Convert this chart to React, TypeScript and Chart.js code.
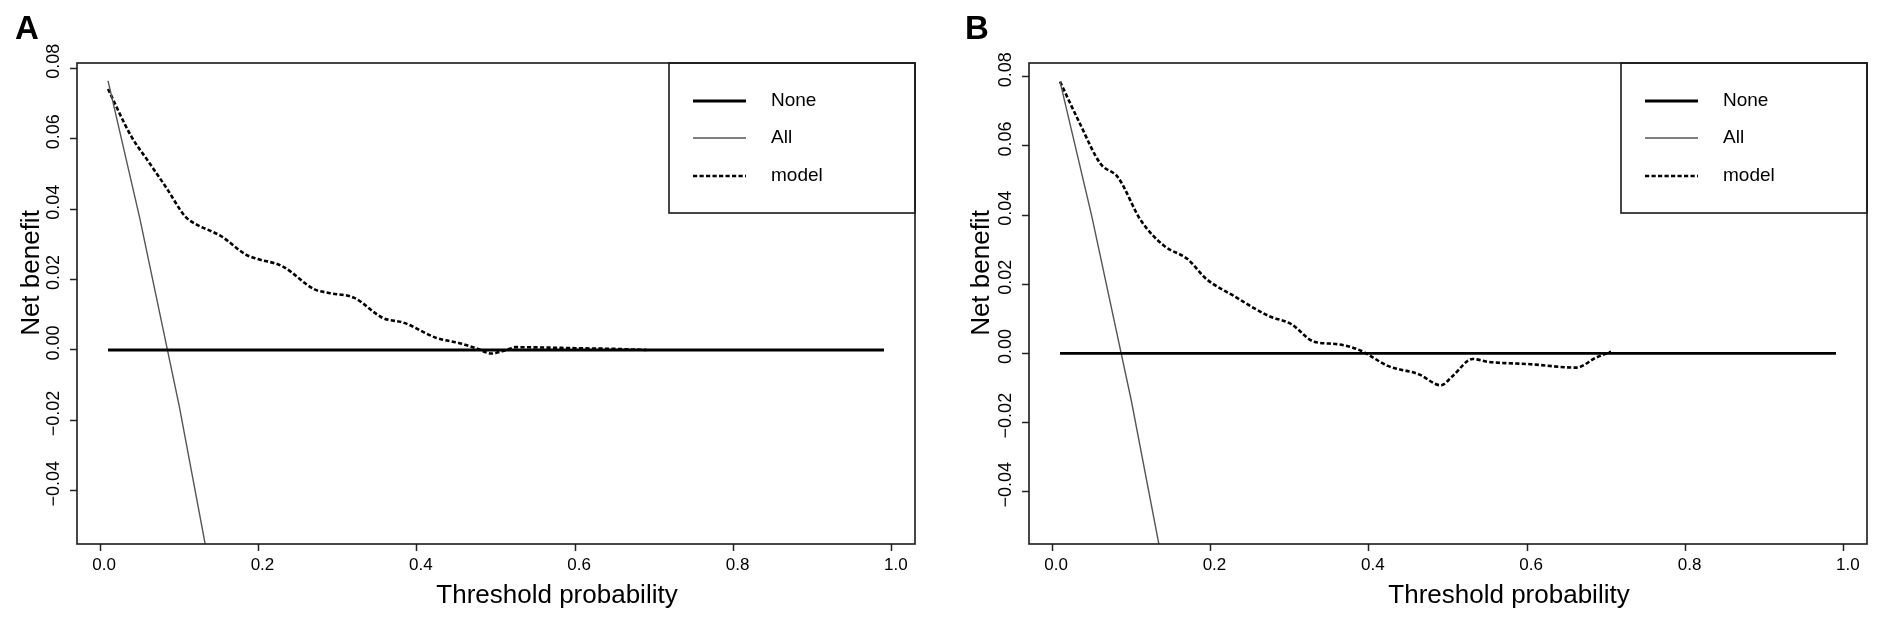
import React, { useEffect, useRef } from "react";
import { Chart, registerables } from "chart.js";

Chart.register(...registerables);

// ---------- data ----------
const panelLetters = ["A", "B"];
const seriesNames = ["None", "All", "model"];
const xTitle = "Threshold probability";
const yTitle = "Net benefit";

const xTickValues = [0, 0.2, 0.4, 0.6, 0.8, 1.0];
const xTickLabels = ["0.0", "0.2", "0.4", "0.6", "0.8", "1.0"];
const yTickValues = [-0.04, -0.02, 0, 0.02, 0.04, 0.06, 0.08];
const yTickLabels = ["\u22120.04", "\u22120.02", "0.00", "0.02", "0.04", "0.06", "0.08"];

const noneX = [0.01, 0.99];
const noneY = [0, 0];

const allX = [0.01, 0.05, 0.1, 0.15];
const allA = [0.0764, 0.0375, -0.016, -0.0758];
const allB = [0.0786, 0.0398, -0.0136, -0.0732];

const modelAX = [0.01, 0.039, 0.062, 0.085, 0.107, 0.118, 0.153, 0.184, 0.198, 0.23, 0.271, 0.289, 0.321, 0.357, 0.384, 0.425, 0.453, 0.475, 0.494, 0.512, 0.525, 0.56, 0.6, 0.65, 0.69];
const modelAY = [0.0741, 0.0608, 0.0532, 0.0456, 0.038, 0.0361, 0.0323, 0.0271, 0.0259, 0.0238, 0.0172, 0.0162, 0.0148, 0.0091, 0.0077, 0.0034, 0.002, 0.0005, -0.001, -0.0001, 0.0008, 0.0007, 0.0005, 0.0003, 0.0];

const modelBX = [0.01, 0.034, 0.061, 0.083, 0.112, 0.141, 0.171, 0.195, 0.229, 0.273, 0.302, 0.331, 0.36, 0.39, 0.424, 0.463, 0.491, 0.506, 0.531, 0.55, 0.604, 0.662, 0.687, 0.706];
const modelBY = [0.0786, 0.067, 0.0549, 0.051, 0.0385, 0.0312, 0.0273, 0.0215, 0.0167, 0.0109, 0.0085, 0.0034, 0.0027, 0.0008, -0.0036, -0.006, -0.0092, -0.0065, -0.0016, -0.0024, -0.0031, -0.0041, -0.0012, 0.0005];

const yLimitsA = [-0.0551, 0.0815];
const yLimitsB = [-0.0551, 0.084];
const xLimits = [-0.0292, 1.0292];

// ---------- helpers ----------
const FONT = '"Liberation Sans", Arial, Helvetica, sans-serif';
const zip = (xs: number[], ys: number[]) => xs.map((x, i) => ({ x, y: ys[i] }));

const decorPlugin = {
  id: "decor",
  afterDraw(chart: any, _args: any, opts: any) {
    const { ctx, chartArea: a } = chart;
    ctx.save();
    ctx.setLineDash([]);
    ctx.strokeStyle = "#1a1a1a";
    ctx.lineWidth = 1.6;
    ctx.strokeRect(a.left, a.top, a.right - a.left, a.bottom - a.top);

    // legend box
    const lw = 246;
    const lh = 150;
    const lx = a.right - lw;
    const ly = a.top;
    ctx.strokeRect(lx, ly, lw, lh);
    const rows = [38, 75, 113];
    chart.data.datasets.forEach((ds: any, i: number) => {
      const y = ly + rows[i];
      ctx.beginPath();
      ctx.setLineDash(ds.borderDash || []);
      ctx.lineWidth = ds.borderWidth;
      ctx.strokeStyle = ds.borderColor;
      ctx.moveTo(lx + 24, y);
      ctx.lineTo(lx + 77, y);
      ctx.stroke();
      ctx.setLineDash([]);
      ctx.fillStyle = "#000";
      ctx.font = `19px ${FONT}`;
      ctx.textAlign = "left";
      ctx.textBaseline = "alphabetic";
      ctx.fillText(ds.label, lx + 102, y + 5);
    });

    // panel letter
    ctx.fillStyle = "#000";
    ctx.font = `bold 33px ${FONT}`;
    ctx.textAlign = "left";
    ctx.textBaseline = "alphabetic";
    ctx.fillText(opts.letter, 15, 39);

    // x title
    ctx.font = `26px ${FONT}`;
    ctx.textAlign = "center";
    ctx.fillText(xTitle, a.left + 480, 603);

    // y title
    ctx.translate(39, 273);
    ctx.rotate(-Math.PI / 2);
    ctx.textAlign = "center";
    ctx.fillText(yTitle, 0, 0);
    ctx.restore();
  },
};

function Panel({ letter, allY, mX, mY, yLim, left, right }: any) {
  const ref = useRef<HTMLCanvasElement>(null);
  useEffect(() => {
    const chart = new Chart(ref.current as HTMLCanvasElement, {
      type: "line",
      data: {
        datasets: [
          {
            label: seriesNames[0],
            data: zip(noneX, noneY),
            borderColor: "#000",
            borderWidth: 2.8,
            pointRadius: 0,
            tension: 0,
          },
          {
            label: seriesNames[1],
            data: zip(allX, allY),
            borderColor: "#555",
            borderWidth: 1.4,
            pointRadius: 0,
            tension: 0,
          },
          {
            label: seriesNames[2],
            data: zip(mX, mY),
            borderColor: "#000",
            borderWidth: 2.6,
            borderDash: [4.2, 2.3],
            pointRadius: 0,
            cubicInterpolationMode: "monotone",
          },
        ],
      } as any,
      options: {
        animation: false,
        responsive: false,
        devicePixelRatio: 1,
        layout: { padding: { left: 0, top: 63, right: 950 - right, bottom: 0 } },
        plugins: {
          legend: { display: false },
          tooltip: { enabled: false },
          title: { display: false },
          decor: { letter },
        } as any,
        scales: {
          x: {
            type: "linear",
            min: xLimits[0],
            max: xLimits[1],
            afterBuildTicks: (s: any) => {
              s.ticks = xTickValues.map((v) => ({ value: v }));
            },
            afterFit: (s: any) => {
              s.height = 81;
            },
            border: { display: false },
            grid: {
              drawOnChartArea: false,
              drawTicks: true,
              tickLength: 7,
              tickWidth: 1.5,
              tickColor: "#222",
            },
            ticks: {
              autoSkip: false,
              maxRotation: 0,
              padding: 4,
              labelOffset: 4,
              color: "#000",
              font: { family: FONT, size: 17 },
              callback: (_v: any, i: number) => xTickLabels[i],
            },
          },
          y: {
            type: "linear",
            min: yLim[0],
            max: yLim[1],
            afterBuildTicks: (s: any) => {
              s.ticks = yTickValues.map((v) => ({ value: v }));
            },
            afterFit: (s: any) => {
              s.width = left;
            },
            border: { display: false },
            grid: {
              drawOnChartArea: false,
              drawTicks: true,
              tickLength: 7,
              tickWidth: 1.5,
              tickColor: "#222",
            },
            ticks: {
              autoSkip: false,
              minRotation: 90,
              maxRotation: 90,
              crossAlign: "center",
              padding: -7.3,
              labelOffset: -7,
              color: "#000",
              font: { family: FONT, size: 18 },
              callback: (_v: any, i: number) => yTickLabels[i],
            },
          },
        },
      } as any,
      plugins: [decorPlugin as any],
    });
    return () => chart.destroy();
  }, []);
  return <canvas ref={ref} width={950} height={625} style={{ width: 950, height: 625, display: "block" }} />;
}

export default function App() {
  return (
    <div style={{ position: "absolute", left: 0, top: 0, width: 1900, height: 625, display: "flex", background: "#fff" }}>
      <Panel letter={panelLetters[0]} allY={allA} mX={modelAX} mY={modelAY} yLim={yLimitsA} left={77} right={915} />
      <Panel letter={panelLetters[1]} allY={allB} mX={modelBX} mY={modelBY} yLim={yLimitsB} left={79} right={917} />
    </div>
  );
}
